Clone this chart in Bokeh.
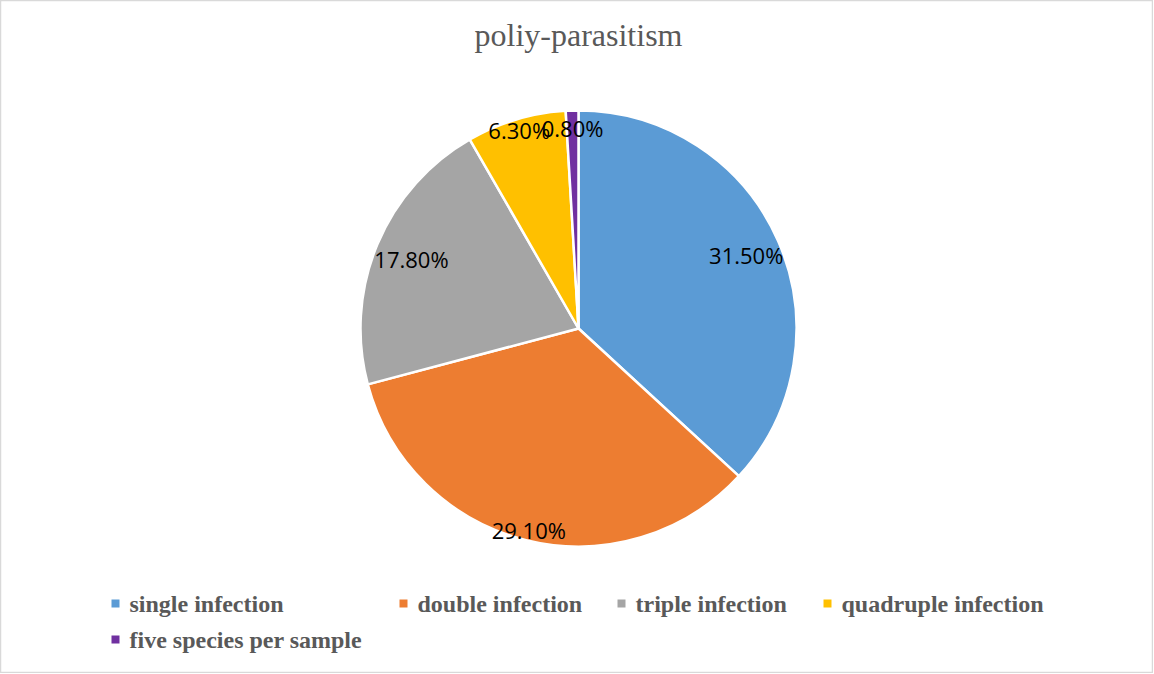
import math
from bokeh.plotting import figure
from bokeh.models import Range1d
from bokeh.core.properties import value
from bokeh.embed import file_html
from bokeh.resources import INLINE

# ---- data ----
categories = ["single infection", "double infection", "triple infection",
              "quadruple infection", "five species per sample"]
percents = [31.5, 29.1, 17.8, 6.3, 0.8]
labels = ["31.50%", "29.10%", "17.80%", "6.30%", "0.80%"]
colors = ["#5B9BD5", "#ED7D31", "#A5A5A5", "#FFC000", "#7030A0"]
title_text = "poliy-parasitism"

# ---- layout (reference pixel space, y up) ----
W, H = 1153, 673
FW, FH = 1153, 673
cx, cy = 578, H - 328
R = 218
R_screen = R * FH / H
label_r = [0.84, 0.95, 0.83, 0.95, 0.92]

p = figure(width=FW, height=FH, output_backend="svg", toolbar_location=None,
           x_range=Range1d(0, W), y_range=Range1d(0, H), min_border=0)
p.axis.visible = False
p.grid.visible = False
p.outline_line_color = "#d9d9d9"
p.outline_line_width = 1.5
p.background_fill_color = "white"
p.border_fill_color = "white"

total = sum(percents)
start = math.pi / 2
starts, ends, lx, ly = [], [], [], []
for i, v in enumerate(percents):
    sweep = v / total * 2 * math.pi
    end = start - sweep
    starts.append(start)
    ends.append(end)
    mid = (start + end) / 2
    lx.append(cx + label_r[i] * R * math.cos(mid))
    ly.append(cy + label_r[i] * R * math.sin(mid))
    start = end

p.wedge(x=[cx] * 5, y=[cy] * 5, radius=R_screen, radius_units="screen",
        start_angle=starts, end_angle=ends, direction="clock",
        fill_color=colors, line_color="white", line_width=2.5)

p.text(x=lx, y=ly, text=labels, text_font=value("Open Sans"),
       text_font_size="22px", text_color="#000000",
       text_align="center", text_baseline="middle")

p.text(x=[cx], y=[H - 34], text=[title_text], text_font=value("Liberation Serif"),
       text_font_size="32px", text_color="#595959",
       text_align="center", text_baseline="middle")

# legend (manual)
leg_x = [115, 403, 621, 827, 115]
leg_y = [H - 603, H - 603, H - 603, H - 603, H - 639]
p.scatter(x=leg_x, y=leg_y, marker="square", size=8, fill_color=colors,
          line_color=None)
p.text(x=[x + 14 for x in leg_x], y=leg_y, text=categories,
       text_font=value("Liberation Serif"), text_font_style="bold",
       text_font_size="24px", text_color="#595959",
       text_align="left", text_baseline="middle")

open("out.html", "w").write(file_html(p, INLINE))
